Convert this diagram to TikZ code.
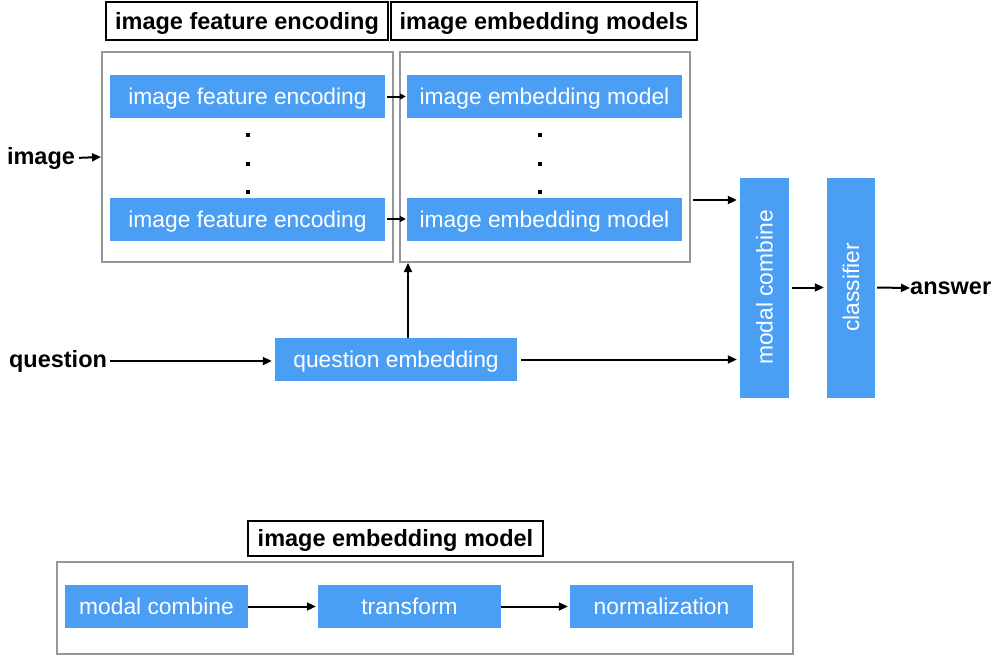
\documentclass[tikz,border=0pt]{standalone}
\usepackage{fontspec}
\setmainfont{Liberation Sans}
\usetikzlibrary{arrows.meta}
\definecolor{boxblue}{RGB}{74,159,245}
\definecolor{framegray}{RGB}{150,150,150}

\begin{document}
\begin{tikzpicture}[x=1pt,y=-1pt,
    blk/.style={fill=boxblue, text=white, inner sep=0pt, text height=16.4pt, text depth=0pt, font=\fontsize{22.8}{26}\selectfont},
    lbl/.style={inner sep=0pt, font=\fontsize{23.5}{27}\selectfont\bfseries},
    hdr/.style={draw, line width=2pt, inner sep=0pt, text height=16.9pt, text depth=0pt, font=\fontsize{23.5}{27}\selectfont\bfseries},
    frame/.style={draw=framegray, line width=2pt, inner sep=0pt},
    arr/.style={-{Triangle[length=9pt,width=8pt]}, line width=2pt},
    tinyarr/.style={-{Triangle[length=6pt,width=6pt]}, line width=2pt}]

      \useasboundingbox (0,0) rectangle (999,656);

      % Headers and frames
      \node[hdr, minimum width=282pt, minimum height=38pt] (hfe) at (247,21) {image feature encoding};
      \node[hdr, minimum width=306pt, minimum height=38pt] (hem) at (544,21) {image embedding models};
      \node[frame, minimum width=291pt, minimum height=210pt] (frfe) at (247.5,157) {};
      \node[frame, minimum width=290pt, minimum height=210pt] (frem) at (545,157) {};

      % Blocks inside the frames
      \node[blk, minimum width=275pt, minimum height=43pt] (fe1) at (247.5,96.5) {image feature encoding};
      \node[blk, minimum width=275pt, minimum height=43pt] (fe2) at (247.5,219) {image feature encoding};
      \node[blk, minimum width=275pt, minimum height=43pt] (em1) at (544.5,96.5) {image embedding model};
      \node[blk, minimum width=275pt, minimum height=43pt] (em2) at (544.5,219) {image embedding model};

      % Dots
      \foreach \y in {135,163.5,192} {
        \fill (246,\y-2) rectangle (250,\y+2);
        \fill (538,\y-2) rectangle (542,\y+2);
      }

      \draw[tinyarr, shorten <=2pt, shorten >=1pt] (fe1.east) -- (em1.west);
      \draw[tinyarr, shorten <=2pt, shorten >=1pt] (fe2.east) -- (em2.west);

      % Inputs
      \node[lbl] (img) at (41,158) {image};
      \draw[arr, shorten <=4pt] (img.east) -- (frfe.west);
      \node[lbl] (qst) at (58,361) {question};
      \node[blk, minimum width=242pt, minimum height=43pt] (qemb) at (396,359.5) {question embedding};
      \draw[arr, shorten <=3pt, shorten >=3pt] (qst.east) -- (qst.east -| qemb.west);
      \draw[arr] ([xshift=12pt]qemb.north) -- ([xshift=12pt]qemb.north |- frem.south);

      % Combine and classify
      \node[blk, rotate=90, minimum width=220pt, minimum height=49pt] (mc) at (764.5,287.5) {modal combine};
      \node[blk, rotate=90, minimum width=220pt, minimum height=48pt] (cls) at (851,287.5) {classifier};
      \node[lbl, anchor=west] (ans) at (910,288) {answer};
      \draw[arr, shorten <=2pt, shorten >=3pt] ([yshift=-43pt]frem.east) -- ([yshift=-43pt]frem.east -| mc.north);
      \draw[arr, shorten <=4pt, shorten >=3pt] (qemb.east) -- (qemb.east -| mc.north);
      \draw[arr, shorten <=3pt, shorten >=3pt] (mc.south) -- (cls.north);
      \draw[arr, shorten <=2pt] (cls.south) -- (ans.west);

      % Image embedding model detail
      \node[hdr, minimum width=295pt, minimum height=35pt] (hbot) at (395.5,538.5) {image embedding model};
      \node[frame, minimum width=736pt, minimum height=92pt] (frbot) at (425,608) {};
      \node[blk, minimum width=183pt, minimum height=43pt] (bmc) at (156.5,606.5) {modal combine};
      \node[blk, minimum width=183pt, minimum height=43pt] (btr) at (409.5,606.5) {transform};
      \node[blk, minimum width=183pt, minimum height=43pt] (bnm) at (661.5,606.5) {normalization};
      \draw[arr, shorten >=2pt] (bmc.east) -- (btr.west);
      \draw[arr, shorten >=2pt] (btr.east) -- (bnm.west);
    \end{tikzpicture}
\end{document}
